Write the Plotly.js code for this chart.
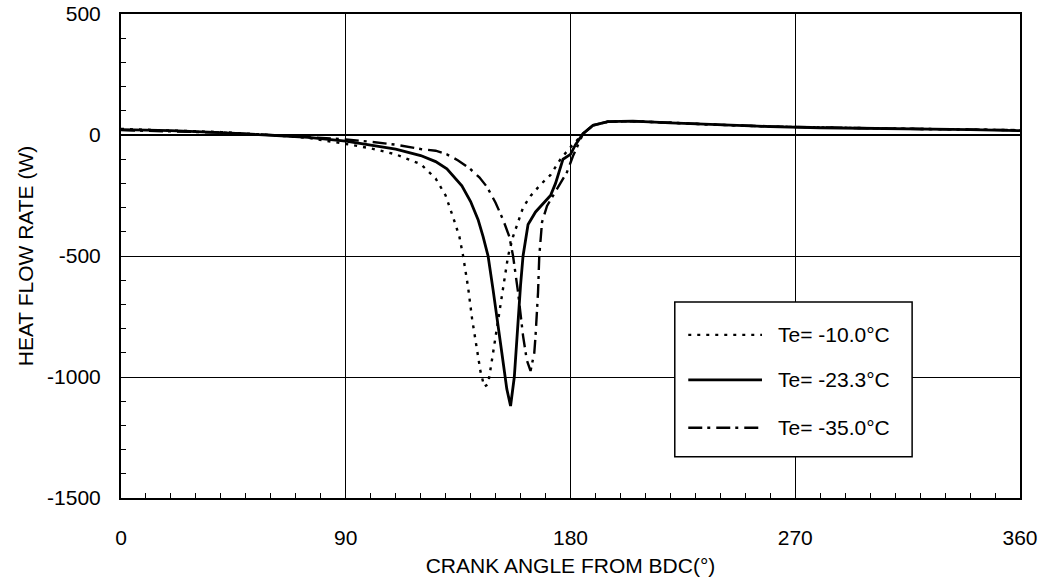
<!DOCTYPE html>
<html>
<head>
<meta charset="utf-8">
<script src="https://cdn.plot.ly/plotly-3.0.1.min.js"></script>
<style>html,body{margin:0;padding:0;background:#fff;}#chart{width:1044px;height:586px;}</style>
</head>
<body>
<div id="chart"></div>
<script>
// Te = -10.0 C (dotted)
const angleA = [0,20,40,60,75,90,100,110,120,126,130,133,135.5,137,139,140.6,142.5,144,145.5,147,149,151,153,155,157,159,161,164,168,172,176,179,182,185,189,195,205,220,240,260,280,300,320,340,360];
const heatA  = [25,20,12,0,-12,-37,-55,-80,-120,-180,-250,-340,-420,-500,-630,-760,-880,-980,-1040,-1030,-900,-760,-620,-500,-420,-355,-300,-252,-205,-165,-100,-62,-30,5,40,55,57,50,42,35,30,28,25,22,20];
// Te = -23.3 C (solid)
const angleB = [0,20,40,60,75,90,100,110,120,126,130.5,134,136.5,140,143,145,147,149,150.5,152.5,154.5,156,157.5,159,160,161,163,166,169,172,174,175.5,177,180,182,185,189,195,205,220,240,260,280,300,320,340,360];
const heatB  = [22,18,10,0,-10,-25,-40,-58,-85,-110,-140,-180,-210,-275,-350,-420,-500,-640,-760,-900,-1050,-1120,-1000,-760,-620,-500,-370,-318,-285,-250,-200,-150,-100,-80,-40,5,40,55,57,50,42,35,30,28,25,22,18];
// Te = -35.0 C (dash-dot)
const angleC = [0,20,40,60,75,90,100,110,120,126,130.5,135,139.8,143.5,146.6,150,153,155.5,157,159,161,162.5,164,165.5,166,167,167.5,168.6,170.6,174.6,178.6,181,183,185,189,195,205,220,240,260,280,300,320,340,360];
const heatC  = [20,16,10,0,-8,-18,-28,-40,-58,-65,-80,-105,-140,-175,-215,-280,-350,-420,-500,-650,-830,-930,-975,-900,-830,-650,-500,-360,-293,-223,-153,-87,-40,5,40,55,57,50,42,35,30,28,25,22,20];
const seriesNames = ["Te= -10.0°C","Te= -23.3°C","Te= -35.0°C"];
const xTicks = [0,90,180,270,360];
const yTicks = [500,0,-500,-1000,-1500];

const FAM = "Liberation Sans, Arial, Helvetica, sans-serif";
const FS = 21;
const styles = [
  {color: "#000", width: 2.4, dash: "3px,6px"},
  {color: "#000", width: 2.8, dash: "solid"},
  {color: "#000", width: 2.4, dash: "14px,5px,3px,6px"}
];
const xs = [angleA, angleB, angleC];
const ys = [heatA, heatB, heatC];
const traces = xs.map((x, i) => ({x: x, y: ys[i], name: seriesNames[i], mode: "lines", line: styles[i], showlegend: false}));

// Hand-drawn legend box (paper coordinates)
const legX0 = 0.616, legX1 = 0.880, legY0 = 0.085, legY1 = 0.405;
const itemY = [0.337, 0.244, 0.145];
const shapes = [{type: "rect", xref: "paper", yref: "paper", x0: legX0, x1: legX1, y0: legY0, y1: legY1,
                 line: {color: "#000", width: 1.5}, fillcolor: "#fff", layer: "above"}];
const annotations = [];
seriesNames.forEach((n, i) => {
  shapes.push({type: "line", xref: "paper", yref: "paper", x0: 0.631, x1: 0.713, y0: itemY[i], y1: itemY[i],
               line: {color: "#000", width: styles[i].width, dash: styles[i].dash}, layer: "above"});
  annotations.push({xref: "paper", yref: "paper", x: 0.7285, y: itemY[i], xanchor: "left", yanchor: "middle",
                    text: n, showarrow: false, font: {family: FAM, size: FS, color: "#000"}});
});

const layout = {
  width: 1044, height: 586,
  margin: {l: 121, r: 24, t: 14, b: 88},
  paper_bgcolor: "#fff", plot_bgcolor: "#fff",
  font: {family: FAM, size: FS, color: "#000"},
  showlegend: false,
  shapes: shapes,
  annotations: annotations,
  xaxis: {
    range: [0, 360], tickvals: xTicks, ticktext: xTicks.map(String),
    showgrid: true, gridcolor: "#000", gridwidth: 1,
    zeroline: false, showline: true, linecolor: "#000", linewidth: 2, mirror: true,
    ticks: "inside", ticklen: 0, ticklabelstandoff: 20,
    minor: {dtick: 10, ticks: "inside", ticklen: 5, tickcolor: "#000", showgrid: false},
    title: {text: "CRANK ANGLE FROM BDC(°)", font: {family: FAM, size: FS}, standoff: 10},
    tickfont: {family: FAM, size: FS}
  },
  yaxis: {
    range: [-1500, 500], tickvals: yTicks, ticktext: yTicks.map(String),
    showgrid: true, gridcolor: "#000", gridwidth: 1,
    zeroline: true, zerolinecolor: "#000", zerolinewidth: 1.5,
    showline: true, linecolor: "#000", linewidth: 2, mirror: true,
    ticks: "inside", ticklen: 0, ticklabelstandoff: 14,
    minor: {dtick: 100, ticks: "inside", ticklen: 5, tickcolor: "#000", showgrid: false},
    title: {text: "HEAT FLOW RATE (W)", font: {family: FAM, size: FS}, standoff: 8},
    tickfont: {family: FAM, size: FS}
  }
};
Plotly.newPlot("chart", traces, layout, {staticPlot: true, displayModeBar: false});
</script>
</body>
</html>
